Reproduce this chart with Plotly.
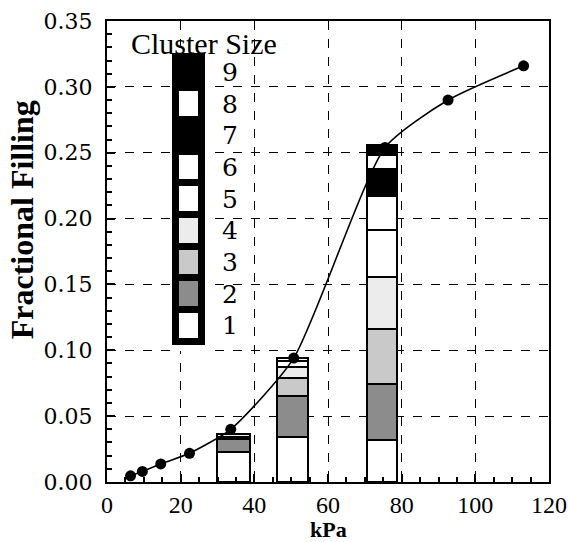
import plotly.graph_objects as go

# ---- data ----
kpa = [6.4, 9.6, 14.6, 22.4, 33.6, 50.7, 75.5, 92.6, 113.1]
filling = [0.0047, 0.008, 0.0137, 0.0218, 0.040, 0.0941, 0.254, 0.290, 0.316]

bar_x = [34.3, 50.4, 74.6]
bar_width = [9.0, 8.6, 8.2]
# heights of each cluster-size segment in the three stacked bars
c1 = [0.0225, 0.034, 0.032]
c2 = [0.0105, 0.031, 0.0425]
c3 = [0.0015, 0.014, 0.0415]
c4 = [0.002, 0.0086, 0.040]
c5 = [None, 0.0044, 0.035]
c6 = [None, 0.002, 0.026]
c7 = [None, None, 0.021]
c8 = [None, None, 0.010]
c9 = [None, None, 0.008]
clusters = [c1, c2, c3, c4, c5, c6, c7, c8, c9]
cluster_labels = ["1", "2", "3", "4", "5", "6", "7", "8", "9"]
cluster_colors = ["white", "#8c8c8c", "#c9c9c9", "#ececec", "white",
                  "white", "black", "white", "black"]

x_ticks = [0, 20, 40, 60, 80, 100, 120]
y_ticks = [0.00, 0.05, 0.10, 0.15, 0.20, 0.25, 0.30, 0.35]

SERIF = "DejaVu Serif"
TIMES = "Liberation Serif"

fig = go.Figure()

for vals, col, lab in zip(clusters, cluster_colors, cluster_labels):
    fig.add_trace(go.Bar(
        x=bar_x, y=vals, width=bar_width, name=lab,
        marker=dict(color=col, line=dict(color="black", width=2.2)),
        showlegend=False, hoverinfo="skip"))

fig.add_trace(go.Scatter(
    x=kpa, y=filling, mode="lines+markers",
    line=dict(color="black", width=1.6, shape="spline", smoothing=0.6),
    marker=dict(color="black", size=11),
    showlegend=False))

# ---- cluster size key drawn as a stacked column on an inset axis ----
n = len(cluster_labels)
fig.add_trace(go.Bar(
    x=[0] * n, y=[1] * n, base=list(range(n)), width=1,
    marker=dict(color=cluster_colors, line=dict(color="black", width=7)),
    xaxis="x2", yaxis="y2", showlegend=False, hoverinfo="skip"))

fig.add_annotation(x=0.22, y=0.952, xref="paper", yref="paper", text="Cluster Size",
                   xanchor="center", yanchor="middle",
                   showarrow=False, font=dict(family=TIMES, size=30, color="black"))

# axis titles as annotations (positioned like the reference)
fig.add_annotation(x=-0.192, y=0.568, xref="paper", yref="paper",
                   text="<b>Fractional Filling</b>", textangle=-90,
                   xanchor="center", yanchor="middle", showarrow=False,
                   font=dict(family=TIMES, size=32, color="black"))
fig.add_annotation(x=0.5, y=-0.104, xref="paper", yref="paper",
                   text="<b>kPa</b>", xanchor="center", yanchor="middle", showarrow=False,
                   font=dict(family=TIMES, size=22, color="black"))

axis_common = dict(
    showline=True, linecolor="black", linewidth=2, mirror=True,
    showgrid=True, gridcolor="black", gridwidth=1.2, griddash="dash",
    ticks="inside", ticklen=8, tickwidth=1.5, tickcolor="black",
    zeroline=False, automargin=False, ticklabeloverflow="allow",
)

fig.update_layout(
    width=568, height=542,
    margin=dict(l=107, r=19, t=21, b=60),
    paper_bgcolor="white", plot_bgcolor="white",
    barmode="stack", bargap=0,
    xaxis=dict(range=[0, 120], tickvals=x_ticks, ticktext=[str(v) for v in x_ticks],
               ticklabelstandoff=0,
               tickfont=dict(family=TIMES, size=24, color="black"),
               minor=dict(dtick=5, tick0=0, ticks="inside", ticklen=5, tickcolor="black", showgrid=False),
               **axis_common),
    yaxis=dict(range=[0, 0.35], tickvals=y_ticks, ticktext=[f"{v:.2f}" for v in y_ticks],
               ticklabelstandoff=8,
               tickfont=dict(family=SERIF, size=22, color="black"),
               minor=dict(dtick=0.01, tick0=0, ticks="inside", ticklen=5, tickcolor="black", showgrid=False),
               **axis_common),
    xaxis2=dict(domain=[0.1437, 0.226], range=[-0.7, 0.7], anchor="y2", visible=False, fixedrange=True),
    yaxis2=dict(domain=[0.284, 0.9436], range=[-0.3, 9.3], anchor="x2", side="right",
                tickvals=[i + 0.5 for i in range(n)], ticktext=cluster_labels,
                showgrid=False, showline=False, zeroline=False, ticks="",
                ticklabelstandoff=14, fixedrange=True,
                tickfont=dict(family=SERIF, size=25, color="black")),
)

fig.write_html("out.html", config={"displayModeBar": False},
               post_script="document.body.style.margin='0px';document.body.style.overflow='hidden';")
